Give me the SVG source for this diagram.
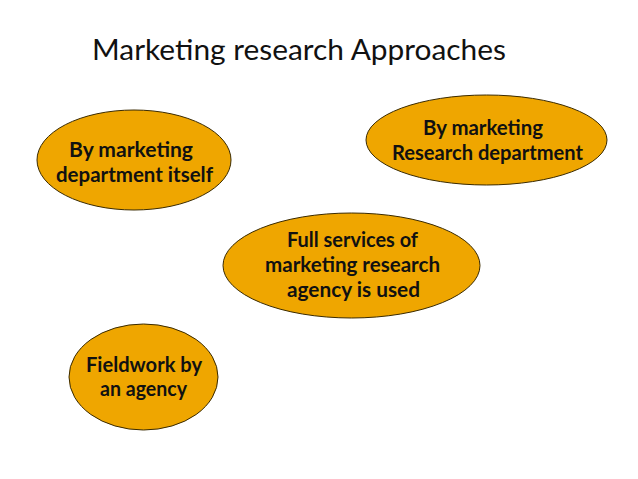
<svg xmlns="http://www.w3.org/2000/svg" width="638" height="479" viewBox="0 0 638 479">
<style>
.n{fill:#EFA600;stroke:#3a2a00;stroke-width:1}
.t{font-family:Lato,"Open Sans","Liberation Sans",sans-serif;font-weight:bold;font-size:20px;fill:#111}
.h{font-family:Lato,"Open Sans","Liberation Sans",sans-serif;font-size:28px;fill:#111}
</style>
<rect width="638" height="479" fill="#fff"/>
<text class="h" x="92" y="60" textLength="414" lengthAdjust="spacingAndGlyphs">Marketing research Approaches</text>
<g id="connectors"></g>
<g id="node-dept-itself">
<ellipse class="n" cx="134" cy="160" rx="97" ry="50"/>
<text class="t" x="69" y="157" textLength="124" lengthAdjust="spacingAndGlyphs">By marketing</text>
<text class="t" x="56" y="182" textLength="157" lengthAdjust="spacingAndGlyphs">department itself</text>
</g>
<g id="node-research-dept">
<ellipse class="n" cx="486.5" cy="140" rx="120.5" ry="45"/>
<text class="t" x="423" y="135" textLength="120" lengthAdjust="spacingAndGlyphs">By marketing</text>
<text class="t" x="392" y="160" textLength="191" lengthAdjust="spacingAndGlyphs">Research department</text>
</g>
<g id="node-full-services">
<ellipse class="n" cx="351.5" cy="265.5" rx="128.5" ry="52.5"/>
<text class="t" x="287" y="247" textLength="131" lengthAdjust="spacingAndGlyphs">Full services of</text>
<text class="t" x="265" y="272" textLength="175" lengthAdjust="spacingAndGlyphs">marketing research</text>
<text class="t" x="287" y="297" textLength="133" lengthAdjust="spacingAndGlyphs">agency is used</text>
</g>
<g id="node-fieldwork">
<ellipse class="n" cx="143.5" cy="377" rx="74.5" ry="53"/>
<text class="t" x="86" y="372" textLength="116" lengthAdjust="spacingAndGlyphs">Fieldwork by</text>
<text class="t" x="100" y="396" textLength="87" lengthAdjust="spacingAndGlyphs">an agency</text>
</g>
</svg>
